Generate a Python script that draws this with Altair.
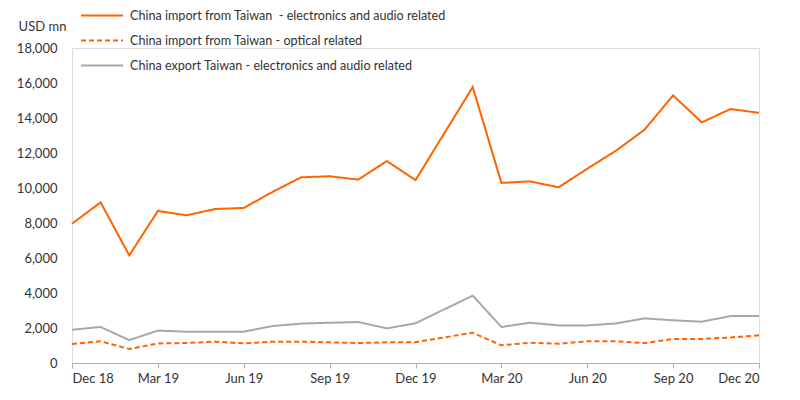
import altair as alt
import pandas as pd

months = ["2018-12", "2019-01", "2019-02", "2019-03", "2019-04", "2019-05", "2019-06",
          "2019-07", "2019-08", "2019-09", "2019-10", "2019-11", "2019-12",
          "2020-02", "2020-03", "2020-04", "2020-05", "2020-06", "2020-07",
          "2020-08", "2020-09", "2020-10", "2020-11", "2020-12"]

import_electronics = [7960, 9180, 6150, 8690, 8440, 8800, 8860, 9770, 10610, 10670, 10480, 11540, 10450,
                      15770, 10290, 10380, 10040, 11100, 12130, 13330, 15290, 13750, 14510, 14300]
import_optical = [1080, 1240, 800, 1120, 1140, 1220, 1120, 1220, 1220, 1180, 1140, 1180, 1190,
                  1730, 1010, 1160, 1100, 1240, 1240, 1140, 1370, 1370, 1460, 1580]
export_electronics = [1900, 2060, 1310, 1850, 1790, 1790, 1790, 2110, 2250, 2300, 2340, 1980, 2270,
                      3850, 2060, 2300, 2150, 2150, 2260, 2550, 2440, 2360, 2680, 2680]

series_names = ["China import from Taiwan\u00a0 - electronics and audio related",
                "China import from Taiwan - optical related",
                "China export Taiwan - electronics and audio related"]
series_colors = ["#FF6200", "#FF6200", "#A8A8A8"]
series_dash = [[1, 0], [5, 3], [1, 0]]

tick_labels = ["Dec 18", "Mar 19", "Jun 19", "Sep 19", "Dec 19", "Mar 20", "Jun 20", "Sep 20", "Dec 20"]
y_ticks = [0, 2000, 4000, 6000, 8000, 10000, 12000, 14000, 16000, 18000]


def month_index(m):
    y, mo = m.split("-")
    return (int(y) - 2018) * 12 + int(mo) - 12


rows = []
for name, vals in zip(series_names, [import_electronics, import_optical, export_electronics]):
    for m, v in zip(months, vals):
        rows.append({"idx": month_index(m), "value": v, "series": name})
df = pd.DataFrame(rows)

label_expr = "[" + ",".join("'%s'" % t for t in tick_labels) + "][round(datum.value/3)]"

font = "Lato"
legend_cfg = dict(title=None, orient="none", legendX=8, legendY=-44,
                  symbolType="M-1,0H3", symbolSize=441, symbolStrokeWidth=2,
                  labelFontSize=12.6, labelColor="#333333", labelFont=font,
                  rowPadding=6, labelLimit=600, labelOffset=27)

chart = alt.Chart(df).mark_line(strokeWidth=2).encode(
    x=alt.X("idx:Q",
            scale=alt.Scale(domain=[0, 24], nice=False, zero=False),
            axis=alt.Axis(values=list(range(0, 25, 3)), labelExpr=label_expr, title=None,
                          grid=False, domainColor="#B0B0B0", tickColor="#B0B0B0", tickSize=5,
                          labelPadding=4, labelFontSize=13, labelColor="#333333", labelFont=font)),
    y=alt.Y("value:Q",
            scale=alt.Scale(domain=[0, 18000], nice=False),
            axis=alt.Axis(values=y_ticks, format=",.0f", title="USD mn", titleAngle=0,
                          titleX=-30, titleY=-22, titleAlign="center", titleBaseline="middle",
                          titleFontWeight="normal", titleFontSize=13, titleColor="#333333",
                          titleFont=font, grid=False, domain=False, ticks=False,
                          labelPadding=15, labelFontSize=13, labelColor="#333333", labelFont=font)),
    color=alt.Color("series:N", scale=alt.Scale(domain=series_names, range=series_colors),
                    legend=alt.Legend(**legend_cfg)),
    strokeDash=alt.StrokeDash("series:N", scale=alt.Scale(domain=series_names, range=series_dash),
                              legend=alt.Legend(**legend_cfg)),
).properties(
    width=687, height=315,
    autosize=alt.AutoSizeParams(type="none"),
    padding={"left": 64, "top": 40, "right": 30, "bottom": 30},
).configure_view(stroke=None).configure(background="white")

chart.save("out.html", embed_options={"renderer": "svg", "actions": False})
